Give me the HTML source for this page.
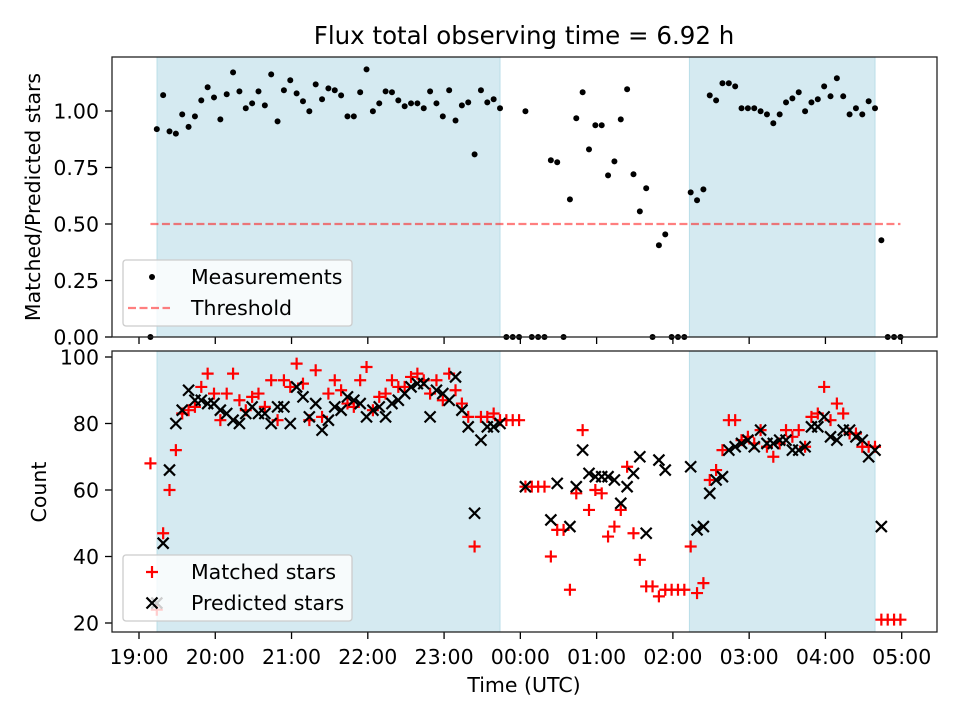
<!DOCTYPE html>
<html><head><meta charset="utf-8"><style>
html,body{margin:0;padding:0;background:#fff}
svg{display:block;font-family:"DejaVu Sans","Liberation Sans",sans-serif}
</style></head><body>
<svg id="chart" width="960" height="720" viewBox="0 0 960 720" xmlns="http://www.w3.org/2000/svg">
<text x="524" y="44" font-size="24.5" text-anchor="middle">Flux total observing time = 6.92 h</text>
<text transform="translate(40,197) rotate(-90)" font-size="20.5" text-anchor="middle">Matched/Predicted stars</text>
<text transform="translate(46,492) rotate(-90)" font-size="20.5" text-anchor="middle">Count</text>
<text x="524" y="692" font-size="20.5" text-anchor="middle">Time (UTC)</text>
<g id="top"></g>
<g id="bot"></g>
</svg>
<script>
// minutes after 19:00
const times = [9,14,19,24,29,34,39,44,49,54,59,64,69,74,79,84,89,94,99,104,109,114,119,124,129,134,139,144,149,154,159,164,169,174,179,184,189,194,199,204,209,214,219,224,229,234,239,244,249,254,259,264,269,274,279,284,289,294,299,304,309,314,319,324,329,334,339,344,349,354,359,364,369,374,379,384,389,394,399,404,409,414,419,424,429,434,439,444,449,454,459,464,469,474,479,484,489,494,499,504,509,514,519,524,529,534,539,544,549,554,559,564,569,574,579,584,589,594,599];
const ratio = [0,0.92,1.07,0.91,0.90,0.985,0.93,0.976,1.047,1.105,1.06,0.963,1.074,1.171,1.087,1.012,1.034,1.087,1.025,1.162,0.954,1.092,1.136,1.078,1.043,0.999,1.118,1.052,1.100,1.092,1.069,0.976,0.976,1.083,1.184,0.999,1.034,1.087,1.083,1.047,1.021,1.034,1.034,1.012,1.087,1.034,0.976,1.092,0.958,1.025,1.038,0.808,1.092,1.038,1.052,1.012,0,0,0,0.999,0,0,0,0.782,0.773,0,0.609,0.968,1.083,0.830,0.937,0.937,0.715,0.777,0.963,1.096,0.720,0.556,0.658,0,0.406,0.454,0,0,0,0.640,0.605,0.653,1.069,1.047,1.123,1.123,1.109,1.012,1.012,1.012,0.999,0.985,0.946,0.985,1.038,1.056,1.083,0.999,1.038,1.052,1.109,1.065,1.145,1.065,0.985,1.012,0.985,1.043,1.012,0.428,0,0,0];
const matched = [68,24,47,60,72,83,84,85,91,95,89,81,89,95,87,84,88,89,85,93,81,93,91,98,92,81,96,82,89,93,90,86,85,93,97,84,88,89,93,91,91,94,95,93,89,93,87,95,90,86,82,43,82,82,83,81,81,81,81,61,61,61,61,40,48,48,30,59,78,54,60,59,46,49,54,67,47,39,31,31,28,30,30,30,30,43,29,32,63,66,72,81,81,75,76,74,78,73,70,74,78,76,78,73,82,83,91,81,86,83,77,77,73,73,73,21,21,21,21];
const predicted = [null,26,44,66,80,84,90,87,87,86,86,84,83,81,80,83,85,83,83,80,85,85,80,91,88,82,86,78,81,85,84,88,87,86,82,84,85,82,86,87,89,91,92,92,82,90,89,87,94,84,79,53,75,79,79,80,null,null,null,61,null,null,null,51,62,null,49,61,72,65,64,64,64,63,56,61,65,70,47,null,69,66,null,null,null,67,48,49,59,63,64,72,73,74,75,73,78,74,74,75,75,72,72,73,79,79,82,76,75,78,78,76,75,70,72,49,null,null,null];
const threshold = 0.5;
const shadeSpans = [[14.2,284],[433,579]];
const xTickLabels = ["19:00","20:00","21:00","22:00","23:00","00:00","01:00","02:00","03:00","04:00","05:00"];
const xTickMinutes = [0,60,120,180,240,300,360,420,480,540,600];
const topTicks = [0,0.25,0.5,0.75,1.0];
const topTickLabels = ["0.00","0.25","0.50","0.75","1.00"];
const botTicks = [20,40,60,80,100];

const NS="http://www.w3.org/2000/svg";
const L=112,R=937;
const X0=139, PXH=76.27;
const xs = m => X0 + m/60*PXH;
const T={t:57,b:337}, B={t:351,b:632};
const yT = v => 337 - v*226;
const yB = v => 357 + (100-v)*3.325;
const TF=20.5;
function mk(tag,attrs,parent){const e=document.createElementNS(NS,tag);for(const k in attrs)e.setAttribute(k,attrs[k]);parent.appendChild(e);return e;}

function panel(g,box,label){
  shadeSpans.forEach(s=>{
    const r=mk('rect',{x:xs(s[0]),y:box.t,width:xs(s[1])-xs(s[0]),height:box.b-box.t,fill:'rgb(213,234,241)',stroke:'rgb(186,222,232)','stroke-width':1},g);
    
    
  });
  xTickMinutes.forEach((m,i)=>{
    const l=mk('line',{x1:xs(m),x2:xs(m),y1:box.b,y2:box.b+7,stroke:'#000','stroke-width':1.3},g);
    
    
  });
}
const gt=document.getElementById('top'), gb=document.getElementById('bot');
panel(gt,T,'top'); panel(gb,B,'bottom');

topTicks.forEach((v,i)=>{
  const l=mk('line',{x1:L-7,x2:L,y1:yT(v),y2:yT(v),stroke:'#000','stroke-width':1.3},gt);
  
  
  const t=mk('text',{x:L-13,y:yT(v)+7.5,'font-size':TF,'text-anchor':'end'},gt);
  t.textContent=topTickLabels[i];
  
  
});
botTicks.forEach(v=>{
  const l=mk('line',{x1:L-7,x2:L,y1:yB(v),y2:yB(v),stroke:'#000','stroke-width':1.3},gb);
  
  
  const t=mk('text',{x:L-13,y:yB(v)+7.5,'font-size':TF,'text-anchor':'end'},gb);
  t.textContent=v;
  
  
});
xTickMinutes.forEach((m,i)=>{
  const t=mk('text',{x:xs(m),y:664,'font-size':TF,'text-anchor':'middle'},gb);
  t.textContent=xTickLabels[i];
  
  
});

const th=mk('line',{x1:xs(times[0]),x2:xs(times[times.length-1]),y1:yT(threshold),y2:yT(threshold),stroke:'rgba(255,0,0,0.5)','stroke-width':2.2,'stroke-dasharray':'8,3.5'},gt);



times.forEach((m,i)=>{
  const c=mk('circle',{cx:xs(m),cy:yT(ratio[i]),r:3,fill:'#000'},gt);
  
  
});
function plus(g,x,y,col,s){
  return mk('path',{d:`M${x-s},${y}H${x+s}M${x},${y-s}V${y+s}`,stroke:col,'stroke-width':2.2,fill:'none'},g);
}
function cross(g,x,y,col,s){
  return mk('path',{d:`M${x-s},${y-s}L${x+s},${y+s}M${x-s},${y+s}L${x+s},${y-s}`,stroke:col,'stroke-width':2.2,fill:'none'},g);
}
times.forEach((m,i)=>{
  if(matched[i]!=null){
    const p=plus(gb,xs(m),yB(matched[i]),'#f00',6);
    
    
  }
});
times.forEach((m,i)=>{
  if(predicted[i]!=null){
    const p=cross(gb,xs(m),yB(predicted[i]),'#000',5.5);
    
    
  }
});

[[gt,T,'top-axes-frame'],[gb,B,'bottom-axes-frame']].forEach(a=>{
  const r=mk('rect',{x:L,y:a[1].t,width:R-L,height:a[1].b-a[1].t,fill:'none',stroke:'#222','stroke-width':1.3},a[0]);
  
  
});

function legend(g,y0,name,entries){
  const lg=mk('g',{},g);
  
  
  mk('rect',{x:123,y:y0,width:229,height:66,rx:3,fill:'rgba(255,255,255,0.8)',stroke:'#ccc','stroke-width':1.3},lg);
  entries.forEach((e,i)=>{
    const yy=y0+17+i*31;
    e.draw(lg,152,yy);
    const t=mk('text',{x:191,y:yy+7,'font-size':TF},lg);
    t.textContent=e.label;
    
    
  });
}
legend(gt,260,'top-legend',[
  {label:'Measurements',draw:(g,x,y)=>{mk('circle',{cx:x,cy:y,r:3,fill:'#000'},g);}},
  {label:'Threshold',draw:(g,x,y)=>{mk('line',{x1:x-24,x2:x+18,y1:y,y2:y,stroke:'rgba(255,0,0,0.5)','stroke-width':2.2,'stroke-dasharray':'8,3.5'},g);}}
]);
legend(gb,555,'bottom-legend',[
  {label:'Matched stars',draw:(g,x,y)=>{plus(g,x,y,'#f00',6);}},
  {label:'Predicted stars',draw:(g,x,y)=>{cross(g,x,y,'#000',5.5);}}
]);
</script>
</body></html>
